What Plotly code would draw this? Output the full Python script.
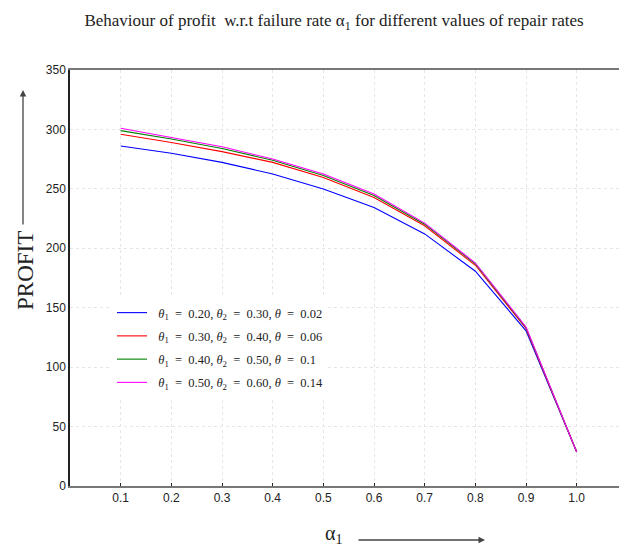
import plotly.graph_objects as go

alpha1 = [0.1, 0.2, 0.3, 0.4, 0.5, 0.6, 0.7, 0.8, 0.9, 1.0]
profit_a = [286.0, 280.0, 272.3, 262.5, 249.8, 234.3, 212.1, 180.7, 130.6, 28.6]
profit_b = [296.0, 289.0, 281.3, 272.3, 259.6, 242.8, 218.9, 185.7, 132.5, 28.6]
profit_c = [299.0, 292.0, 284.0, 274.0, 261.3, 244.4, 220.3, 187.0, 133.2, 28.6]
profit_d = [301.0, 293.5, 285.4, 275.1, 262.5, 245.6, 221.2, 187.6, 133.8, 28.6]
series_names = [
    "  <i>θ</i><sub>1</sub>  =  0.20, <i>θ</i><sub>2</sub>  =  0.30, <i>θ</i>  =  0.02",
    "  <i>θ</i><sub>1</sub>  =  0.30, <i>θ</i><sub>2</sub>  =  0.40, <i>θ</i>  =  0.06",
    "  <i>θ</i><sub>1</sub>  =  0.40, <i>θ</i><sub>2</sub>  =  0.50, <i>θ</i>  =  0.1",
    "  <i>θ</i><sub>1</sub>  =  0.50, <i>θ</i><sub>2</sub>  =  0.60, <i>θ</i>  =  0.14",
]
colors = ["#0000ff", "#ff0000", "#008000", "#ff00ff"]
x_ticks = [0.1, 0.2, 0.3, 0.4, 0.5, 0.6, 0.7, 0.8, 0.9, 1.0]
x_ticktext = ["0.1", "0.2", "0.3", "0.4", "0.5", "0.6", "0.7", "0.8", "0.9", "1.0"]
y_ticks = [0, 50, 100, 150, 200, 250, 300, 350]

W, H = 619, 546
L, R, T, B = 70, 0, 70, 60
pw, ph = W - L - R, H - T - B

def px2paper(px, py):
    return (px - L) / pw, (H - B - py) / ph

fig = go.Figure()
for ys, name, c in zip([profit_a, profit_b, profit_c, profit_d], series_names, colors):
    fig.add_trace(go.Scatter(x=alpha1, y=ys, mode="lines", name=name,
                             legendgroup=name,
                             line=dict(color=c, width=1.1)))

serif = "Liberation Serif, DejaVu Serif, serif"

lx, ly = px2paper(112, 298)
fig.update_layout(
    width=W, height=H,
    margin=dict(l=L, r=R, t=T, b=B),
    paper_bgcolor="white", plot_bgcolor="white",
    title=dict(text="Behaviour of profit  w.r.t failure rate α<sub>1</sub> for different values of repair rates",
               x=334 / W, xanchor="center", y=1 - 20 / H, yanchor="middle",
               font=dict(family=serif, size=17, color="#222")),
    showlegend=True,
    legend=dict(x=lx, y=ly, xanchor="left", yanchor="top",
                bgcolor="rgba(255,255,255,1)", borderwidth=0,
                font=dict(family=serif, size=12.5, color="#222"),
                traceorder="grouped", tracegroupgap=4, itemwidth=30),
    xaxis=dict(range=[0, (W - L - R) / 50.67 * 0.1], tickvals=x_ticks, ticktext=x_ticktext,
               showgrid=True, gridcolor="#e6e6e6", griddash="dot", gridwidth=1,
               showline=True, linecolor="#777", linewidth=2, mirror=True,
               ticks="inside", ticklen=3, tickcolor="#222",
               tickfont=dict(family="Liberation Sans, Arial, sans-serif", size=12, color="#222"),
               zeroline=False),
    yaxis=dict(range=[0, 350], tickvals=y_ticks,
               showgrid=True, gridcolor="#e6e6e6", griddash="dot", gridwidth=1,
               showline=True, linecolor="#222", linewidth=1.5,
               ticks="", tickfont=dict(family="Liberation Sans, Arial, sans-serif", size=12, color="#222"),
               zeroline=False),
)

# y-axis title and arrow
px_, py_ = px2paper(25, 271)
fig.add_annotation(xref="paper", yref="paper", x=px_, y=py_, text="PROFIT", textangle=-90,
                   xanchor="center", yanchor="middle",
                   showarrow=False, font=dict(family=serif, size=23, color="#222"))
ax_, ay_ = px2paper(23, 90)
fig.add_annotation(xref="paper", yref="paper", x=ax_, y=ay_, text="", showarrow=True,
                   ax=0, ay=136, arrowhead=2, arrowsize=1, arrowwidth=1.3, arrowcolor="#444")

# x-axis title and arrow
tx, ty = px2paper(333, 534)
fig.add_annotation(xref="paper", yref="paper", x=tx, y=ty, text="α<sub>1</sub>",
                   xanchor="center", yanchor="middle",
                   showarrow=False, font=dict(family=serif, size=20, color="#222"))
hx, hy = px2paper(485, 540)
fig.add_annotation(xref="paper", yref="paper", x=hx, y=hy, text="", showarrow=True,
                   ax=-128, ay=0, arrowhead=2, arrowsize=1, arrowwidth=1.3, arrowcolor="#444")

fig.write_html("out.html", config={"displayModeBar": False},
               post_script="document.body.style.margin='0';document.body.style.overflow='hidden';")
